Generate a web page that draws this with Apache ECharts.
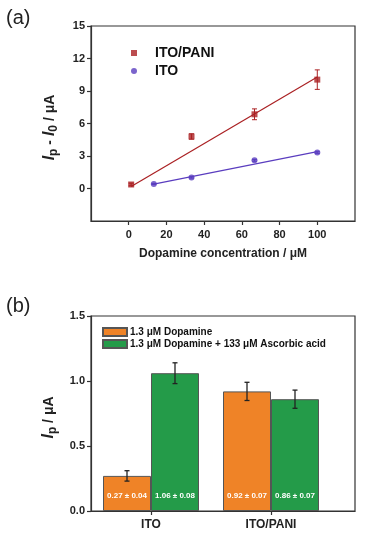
<!DOCTYPE html>
<html>
<head>
<meta charset="utf-8">
<script src="https://cdn.jsdelivr.net/npm/echarts@6/dist/echarts.min.js"></script>
<style>html,body{margin:0;padding:0;background:#fff}#c{width:366px;height:540px}</style>
</head>
<body>
<div id="c"></div>
<script>
// ---------- Panel (a) data ----------
const concPANI = [1.3, 33.3, 66.7, 100];
const currentPANI = [0.37, 4.8, 6.85, 10.05];
const errPANI = [0.12, 0.25, 0.5, 0.9];
const concITO = [13.3, 33.3, 66.7, 100];
const currentITO = [0.42, 1.02, 2.6, 3.32];
const errITO = [0.05, 0.06, 0.08, 0.08];
const fitPANIx = [1.3, 100];
const fitPANIy = [0.18, 10.3];
const fitITOx = [13.3, 100];
const fitITOy = [0.4, 3.4];
const xTicksA = [0, 20, 40, 60, 80, 100];
const yTicksA = [0, 3, 6, 9, 12, 15];

// ---------- Panel (b) data ----------
const electrodes = ['ITO', 'ITO/PANI'];
const seriesNamesB = ['1.3 \u03bcM Dopamine', '1.3 \u03bcM Dopamine + 133 \u03bcM Ascorbic acid'];
const dopamineOnly = [0.27, 0.92];
const errDopamine = [0.04, 0.07];
const withAA = [1.06, 0.86];
const errAA = [0.08, 0.07];
const yTicksB = [0, 0.5, 1.0, 1.5];

const FONT = '"Liberation Sans", Arial, sans-serif';
const C_PANI = '#aa2023';
const C_ITO = '#5a3dbf';
const C_OR = '#ef8327';
const C_GR = '#249b49';
const AX = '#333';

const pairs = (xs, ys) => xs.map((x, i) => [x, ys[i]]);
const errData = (xs, ys, es) => xs.map((x, i) => [x, ys[i] - es[i], ys[i] + es[i]]);

function errRender(color, offsetPx, cap, width) {
  return function (params, api) {
    const x = api.value(0);
    const top = api.coord([x, api.value(2)]);
    const bot = api.coord([x, api.value(1)]);
    const cx = top[0] + offsetPx;
    const st = { stroke: color, lineWidth: width };
    return {
      type: 'group',
      children: [
        { type: 'line', shape: { x1: cx, y1: top[1], x2: cx, y2: bot[1] }, style: st },
        { type: 'line', shape: { x1: cx - cap, y1: top[1], x2: cx + cap, y2: top[1] }, style: st },
        { type: 'line', shape: { x1: cx - cap, y1: bot[1], x2: cx + cap, y2: bot[1] }, style: st }
      ]
    };
  };
}

const labelStyle = { fontFamily: FONT, fontSize: 11, fontWeight: 'bold', color: '#222' };
const axLine = { show: true, onZero: false, lineStyle: { color: AX, width: 1.2 } };
const tick = (vals) => ({ show: true, inside: false, length: 4, customValues: vals, lineStyle: { color: AX, width: 1.2 } });
const yNameRich = {
  i: { fontFamily: FONT, fontSize: 16, fontStyle: 'italic', fontWeight: 'bold', color: '#222' },
  s: { fontFamily: FONT, fontSize: 12, fontWeight: 'bold', color: '#222', padding: [8, 0, 0, 0] },
  t: { fontFamily: FONT, fontSize: 14, fontWeight: 'bold', color: '#222' }
};

const chart = echarts.init(document.getElementById('c'), null, { renderer: 'canvas' });
chart.setOption({
  animation: false,
  backgroundColor: '#fff',
  textStyle: { fontFamily: FONT },
  title: [
    { text: '(a)', left: 6, top: 8, padding: 0, textStyle: { fontFamily: FONT, fontSize: 20, fontWeight: 'normal', color: '#222' } },
    { text: '(b)', left: 6, top: 296, padding: 0, textStyle: { fontFamily: FONT, fontSize: 20, fontWeight: 'normal', color: '#222' } }
  ],
  grid: [
    { left: 91, top: 26, width: 264, height: 195, show: true, borderColor: AX, borderWidth: 1.2, backgroundColor: 'transparent' },
    { left: 91, top: 316, width: 264, height: 195, show: true, borderColor: AX, borderWidth: 1.2, backgroundColor: 'transparent' }
  ],
  legend: [
    {
      data: [{ name: 'ITO/PANI', icon: 'rect' }, { name: 'ITO', icon: 'circle' }],
      orient: 'vertical', left: 131, top: 46, itemWidth: 6, itemHeight: 6, itemGap: 4,
      selectedMode: false, padding: 0,
      textStyle: { fontFamily: FONT, fontSize: 14, fontWeight: 'bold', color: '#111', padding: [0, 0, 0, 13] }
    },
    {
      data: seriesNamesB.map(n => ({ name: n, icon: 'rect' })),
      orient: 'vertical', left: 102, top: 327, itemWidth: 24, itemHeight: 8, itemGap: 2,
      selectedMode: false, padding: 0,
      textStyle: { fontFamily: FONT, fontSize: 10, fontWeight: 'bold', color: '#111', padding: [0, 0, 0, -2] }
    }
  ],
  xAxis: [
    {
      gridIndex: 0, type: 'value', min: -20, max: 120, interval: 20,
      axisLine: axLine, axisTick: tick(xTicksA), splitLine: { show: false },
      axisLabel: Object.assign({ customValues: xTicksA, margin: 8 }, labelStyle),
      name: 'Dopamine concentration / \u03bcM', nameLocation: 'middle', nameGap: 27,
      nameTextStyle: { fontFamily: FONT, fontSize: 12, fontWeight: 'bold', color: '#222' }
    },
    {
      gridIndex: 1, type: 'value', min: 0.5, max: 2.7,
      axisLine: axLine, axisTick: tick([1, 2]), splitLine: { show: false },
      axisLabel: Object.assign({ customValues: [1, 2], margin: 8, formatter: v => electrodes[Math.round(v) - 1] }, labelStyle, { fontSize: 12 })
    }
  ],
  yAxis: [
    {
      gridIndex: 0, type: 'value', min: -3, max: 15, interval: 3,
      axisLine: axLine, axisTick: tick(yTicksA), splitLine: { show: false },
      axisLabel: Object.assign({ customValues: yTicksA, margin: 6 }, labelStyle),
      name: '{i|I}{s|p}{t| - }{i|I}{s|0}{t| / \u03bcA}', nameLocation: 'middle', nameGap: 31, nameRotate: 90,
      nameTextStyle: { color: '#222', padding: [0, 8, 0, 0], rich: yNameRich }
    },
    {
      gridIndex: 1, type: 'value', min: 0, max: 1.5, interval: 0.5,
      axisLine: axLine, axisTick: tick(yTicksB), splitLine: { show: false },
      axisLabel: Object.assign({ customValues: yTicksB, margin: 6, formatter: v => v.toFixed(1) }, labelStyle),
      name: '{i|I}{s|p}{t| / \u03bcA}', nameLocation: 'middle', nameGap: 31, nameRotate: 90,
      nameTextStyle: { color: '#222', padding: [0, 8, 0, 0], rich: yNameRich }
    }
  ],
  series: [
    // Panel (a)
    { name: 'ITO/PANI fit', type: 'line', xAxisIndex: 0, yAxisIndex: 0, data: pairs(fitPANIx, fitPANIy), showSymbol: false, lineStyle: { color: C_PANI, width: 1.2 }, z: 2 },
    { name: 'ITO fit', type: 'line', xAxisIndex: 0, yAxisIndex: 0, data: pairs(fitITOx, fitITOy), showSymbol: false, lineStyle: { color: C_ITO, width: 1.2 }, z: 2 },
    { name: 'ITO/PANI err', type: 'custom', xAxisIndex: 0, yAxisIndex: 0, data: errData(concPANI, currentPANI, errPANI), renderItem: errRender(C_PANI, 0, 2.5, 1), z: 3 },
    { name: 'ITO err', type: 'custom', xAxisIndex: 0, yAxisIndex: 0, data: errData(concITO, currentITO, errITO), renderItem: errRender(C_ITO, 0, 2.5, 1), z: 3 },
    { name: 'ITO/PANI', type: 'scatter', xAxisIndex: 0, yAxisIndex: 0, data: pairs(concPANI, currentPANI), symbol: 'rect', symbolSize: 6, itemStyle: { color: C_PANI }, z: 4 },
    { name: 'ITO', type: 'scatter', xAxisIndex: 0, yAxisIndex: 0, data: pairs(concITO, currentITO), symbol: 'circle', symbolSize: 6, itemStyle: { color: C_ITO }, z: 4 },
    // Panel (b)
    {
      name: seriesNamesB[0], type: 'bar', xAxisIndex: 1, yAxisIndex: 1, barWidth: 48, barGap: '0%',
      data: electrodes.map((e, i) => [i + 1, dopamineOnly[i]]),
      itemStyle: { color: C_OR, borderColor: '#555', borderWidth: 1 },
      label: { show: true, position: 'insideBottom', distance: 11, color: '#fff', fontFamily: FONT, fontSize: 8, fontWeight: 'bold',
        formatter: p => dopamineOnly[p.dataIndex].toFixed(2) + ' \u00b1 ' + errDopamine[p.dataIndex].toFixed(2) }
    },
    {
      name: seriesNamesB[1], type: 'bar', xAxisIndex: 1, yAxisIndex: 1, barWidth: 48, barGap: '0%',
      data: electrodes.map((e, i) => [i + 1, withAA[i]]),
      itemStyle: { color: C_GR, borderColor: '#555', borderWidth: 1 },
      label: { show: true, position: 'insideBottom', distance: 11, color: '#fff', fontFamily: FONT, fontSize: 8, fontWeight: 'bold',
        formatter: p => withAA[p.dataIndex].toFixed(2) + ' \u00b1 ' + errAA[p.dataIndex].toFixed(2) }
    },
    { name: 'dop err', type: 'custom', xAxisIndex: 1, yAxisIndex: 1, data: errData([1, 2], dopamineOnly, errDopamine), renderItem: errRender('#222', -24, 2.5, 1.3), z: 5 },
    { name: 'aa err', type: 'custom', xAxisIndex: 1, yAxisIndex: 1, data: errData([1, 2], withAA, errAA), renderItem: errRender('#222', 24, 2.5, 1.3), z: 5 }
  ]
});
</script>
</body>
</html>
